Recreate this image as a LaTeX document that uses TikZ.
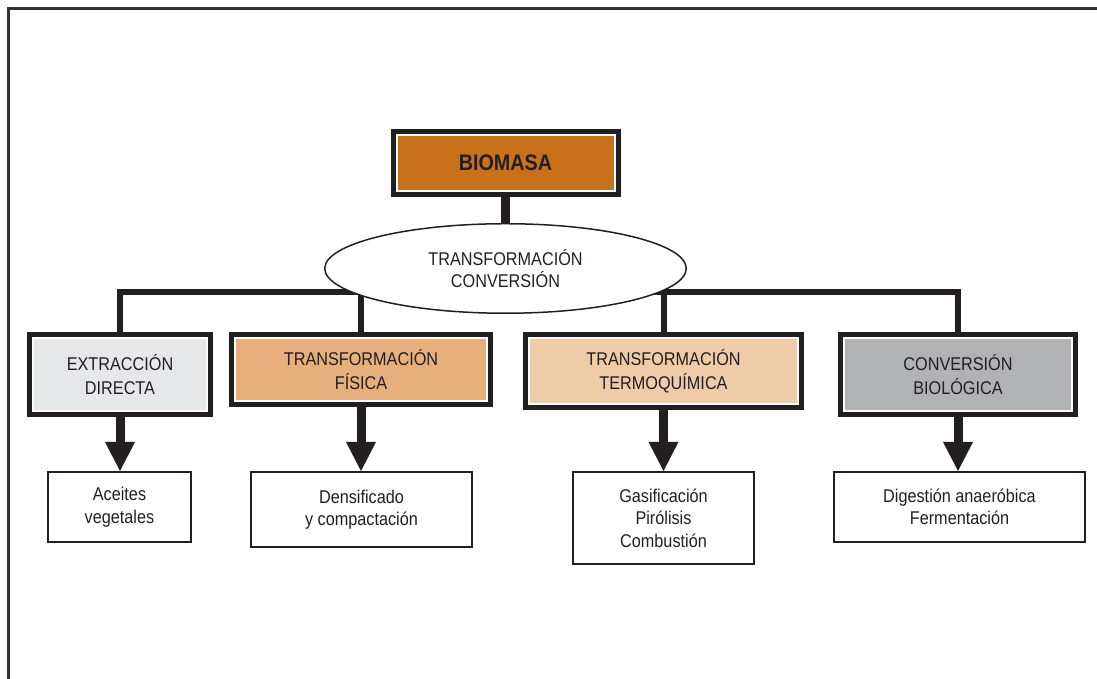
\documentclass[tikz,border=0pt]{standalone}
\usepackage{fontspec}
\setmainfont{Liberation Sans}[FakeStretch=0.88]
\usetikzlibrary{arrows.meta,shapes.geometric}
\definecolor{ink}{HTML}{231F20}
\definecolor{framegray}{HTML}{333333}
\definecolor{biomasa}{HTML}{C9711A}
\definecolor{fisica}{HTML}{E7AF7C}
\definecolor{termo}{HTML}{EFCCA8}
\definecolor{directa}{HTML}{E6E7E8}
\definecolor{biologica}{HTML}{B1B2B4}

\begin{document}
\begin{tikzpicture}[
  font=\fontsize{10.5}{12.8}\selectfont,
  catbox/.style={draw=ink, line width=0.1cm, fill=white, inner sep=0, align=center, text=ink,
                 font=\fontsize{10.5}{13.6}\selectfont,
                 path picture={\fill[#1] ([shift={(0.09,0.09)}]path picture bounding box.south west)
                   rectangle ([shift={(-0.09,-0.09)}]path picture bounding box.north east);}},
  outbox/.style={draw=ink, line width=0.04cm, fill=white, inner sep=0, align=center, text=ink},
  bar/.style={draw=ink, line width=0.12cm, line join=miter},
  stem/.style={draw=ink, line width=0.18cm},
  drop/.style={draw=ink, line width=0.18cm, -{Triangle[length=0.58cm, width=0.6cm, line width=0pt]}},
]
\useasboundingbox (0,0) rectangle (21.94,13.58);

% frame (open on the right and at the bottom)
\draw[line width=0.06cm, framegray] (0.17,-0.2) -- (0.17,13.41) -- (22.2,13.41);

% =========================== categories ===========================
\node[catbox=directa,   minimum width=3.62cm, minimum height=1.60cm] (ext) at (2.40, 6.09) {EXTRACCIÓN\\DIRECTA};
\node[catbox=fisica,    minimum width=5.18cm, minimum height=1.40cm] (fis) at (7.22, 6.19) {TRANSFORMACIÓN\\FÍSICA};
\node[catbox=termo,     minimum width=5.52cm, minimum height=1.46cm] (ter) at (13.27, 6.16) {TRANSFORMACIÓN\\TERMOQUÍMICA};
\node[catbox=biologica, minimum width=4.70cm, minimum height=1.60cm] (con) at (19.16, 6.09) {CONVERSIÓN\\BIOLÓGICA};

% bus
\coordinate (bus) at (0, 7.74);
\draw[bar] (ext.north) |- (bus -| con.north) -- (con.north);
\foreach \n in {fis,ter}{ \draw[bar] (\n.north) -- (\n.north |- bus); }

% =========================== top ===========================
\node[ellipse, draw=ink, line width=0.03cm, fill=white, inner sep=0, align=center, text=ink,
      minimum width=7.23cm, minimum height=1.79cm] (elli) at (10.11, 8.21) {TRANSFORMACIÓN\\CONVERSIÓN};
\node[catbox=biomasa, minimum width=4.50cm, minimum height=1.26cm,
      font=\fontsize{12.8}{14}\selectfont\bfseries] (bio) at (10.11, 10.32) {BIOMASA};
\draw[stem] (bio.south) -- (elli.north);

% =========================== results ===========================
\node[outbox, minimum width=2.86cm, minimum height=1.40cm] (ace) at (2.39, 3.44) {Aceites\\vegetales};
\node[outbox, minimum width=4.42cm, minimum height=1.50cm] (den) at (7.23, 3.39) {Densificado\\y compactación};
\node[outbox, minimum width=3.62cm, minimum height=1.84cm] (gas) at (13.27, 3.22) {Gasificación\\Pirólisis\\Combustión};
\node[outbox, minimum width=5.02cm, minimum height=1.40cm] (dig) at (19.19, 3.44) {Digestión anaeróbica\\Fermentación};

\foreach \a/\b in {ext/ace, fis/den, ter/gas, con/dig}{
  \draw[drop] (\a.south) -- (\a.south |- \b.north);
}

\end{tikzpicture}
\end{document}
